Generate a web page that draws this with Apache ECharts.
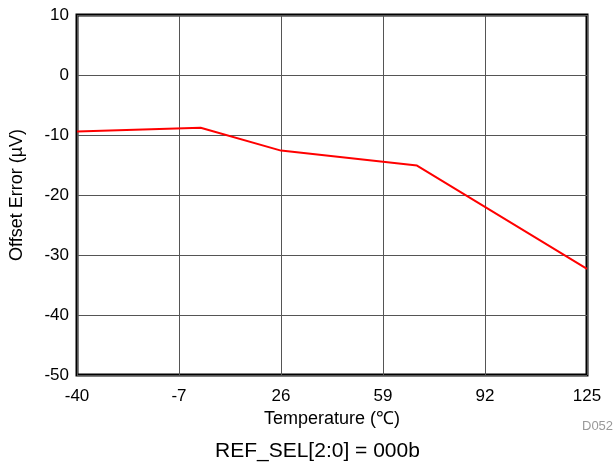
<!DOCTYPE html>
<html><head><meta charset="utf-8">
<script src="https://cdn.jsdelivr.net/npm/echarts@6/dist/echarts.min.js"></script>
<style>html,body{margin:0;padding:0;background:#fff}#c{width:614px;height:464px}</style>
</head><body><div id="c"></div>
<script>
const temperatures = [-40, 0, 26, 70, 125];
const offsetError = [-9.4, -8.8, -12.6, -15.1, -32.3];
const xTicks = [-40, -7, 26, 59, 92, 125];
const yTicks = [-50, -40, -30, -20, -10, 0, 10];

const chart = echarts.init(document.getElementById('c'));
const font = 'Liberation Sans, Arial, sans-serif';
chart.setOption({
  animation: false,
  title: {
    text: 'REF_SEL[2:0] = 000b', left: 210, top: 436,
    textStyle: {fontFamily: font, fontSize: 21, fontWeight: 'normal', color: '#000'}
  },
  graphic: [{
    type: 'text', left: 582, top: 420,
    style: {text: 'D052', fontFamily: font, fontSize: 13, fill: '#999'}
  }],
  grid: {left: 77, right: 27, top: 15, bottom: 89, show: true, borderColor: '#000', borderWidth: 3, backgroundColor: 'transparent'},
  xAxis: {
    type: 'value', min: xTicks[0], max: xTicks[xTicks.length - 1], interval: 33,
    name: 'Temperature (℃)', nameLocation: 'middle', nameGap: 30,
    nameTextStyle: {fontFamily: font, fontSize: 18, color: '#000'},
    axisLine: {show: false}, axisTick: {show: false},
    axisLabel: {fontFamily: font, fontSize: 17, color: '#000', margin: 13},
    splitLine: {show: true, lineStyle: {color: '#555', width: 1}}
  },
  yAxis: {
    type: 'value', min: yTicks[0], max: yTicks[yTicks.length - 1], interval: 10,
    name: 'Offset Error (µV)', nameLocation: 'middle', nameGap: 51,
    nameTextStyle: {fontFamily: font, fontSize: 18, color: '#000'},
    axisLine: {show: false}, axisTick: {show: false},
    axisLabel: {fontFamily: font, fontSize: 17, color: '#000', margin: 8},
    splitLine: {show: true, lineStyle: {color: '#555', width: 1}}
  },
  series: [{
    type: 'line', data: temperatures.map((t, i) => [t, offsetError[i]]),
    showSymbol: false, lineStyle: {color: '#ff0000', width: 2}
  }]
});
</script></body></html>
